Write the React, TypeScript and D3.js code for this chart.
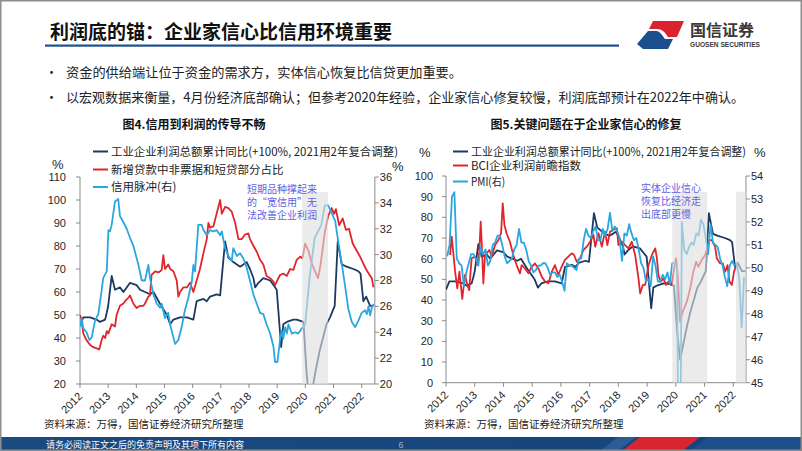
import React, { useEffect } from 'react';
import * as d3 from 'd3';

type P = [number, number];

// ---------- data ----------
const yearLabels = ['2012', '2013', '2014', '2015', '2016', '2017', '2018', '2019', '2020', '2021', '2022'];
const leftYTicks = [20, 30, 40, 50, 60, 70, 80, 90, 100, 110];
const leftY2Ticks = [20, 22, 24, 26, 28, 30, 32, 34, 36];
const rightYTicks = [0, 10, 20, 30, 40, 50, 60, 70, 80, 90, 100];
const rightY2Ticks = [45, 46, 47, 48, 49, 50, 51, 52, 53, 54];

// months since Jan 2012, value
const profitYoY: P[] = [
  [0, 45], [1.4, 49], [4.3, 49], [7.1, 48], [8.5, 47], [10.7, 48], [11.4, 51], [12, 54], [13.5, 67], [14.9, 61],
  [17, 62], [18.5, 60], [19.9, 62], [21.3, 64], [24.1, 63], [25.6, 61], [27.7, 60], [29.8, 59], [31.3, 60], [34, 55],
  [37, 50], [38.4, 46], [39.8, 48], [42.6, 49], [45.5, 49], [48.3, 48], [49.7, 56], [52.6, 57], [54, 56], [55.4, 58],
  [58.2, 59], [59.7, 58.5], [61.8, 82], [63.2, 75], [65.3, 73], [68.2, 71], [69.6, 72], [71, 73], [72.4, 70], [73.9, 66],
  [74.6, 62], [76, 64], [78.1, 66], [81, 65], [82.4, 63], [83.8, 61], [85.7, 36], [86.6, 46], [88.1, 47], [90.9, 48],
  [92.3, 48], [95.2, 47], [96.5, 25], [97.8, 11], [99, 18], [100.6, 27], [102, 34], [103.5, 40], [105, 46], [106.5, 49],
  [108.5, 54], [109.8, 82], [111.5, 72], [113.6, 71], [116.5, 70], [118.6, 69], [119.5, 68], [120.7, 56], [121.9, 58],
  [123.6, 54], [125, 54],
];

const loanShare: P[] = [
  [0, 50], [0.7, 48], [1.4, 42], [2.8, 39], [4.3, 37], [5.7, 36], [7.1, 35.5], [8.2, 35], [9.2, 39], [9.9, 41],
  [10.7, 40], [11.4, 43], [12.1, 42], [13.5, 46], [14.9, 45], [15.6, 50], [17, 54], [18.5, 55], [19.2, 56], [20.6, 57.5],
  [21.3, 58.5], [22.7, 55], [24.1, 53], [25.6, 54], [27, 54], [27.7, 55], [29.1, 58], [29.8, 58.5], [30.5, 67.4], [32, 69],
  [33.4, 68.5], [34.8, 69.6], [35.5, 76], [36.2, 70], [37.6, 72], [38.4, 70], [39.8, 69], [41.2, 65], [41.9, 58], [42.6, 60],
  [44, 62], [45.5, 62], [46.9, 64], [48.3, 60], [49.7, 65], [51.1, 70], [52.6, 77], [54, 83], [54.7, 90], [55.4, 88],
  [56.8, 88.5], [58.2, 94], [59.7, 100], [60.4, 94], [61.8, 97], [63.2, 96.5], [64.6, 95], [66.1, 90], [67.5, 83], [68.9, 83],
  [70.3, 85], [71.7, 85.5], [72.4, 83], [73.9, 80], [75.3, 77.5], [76.7, 74], [78.1, 72], [79.5, 67], [81, 66], [82.4, 64.5],
  [83.1, 63], [83.8, 64.5], [85.2, 67.4], [86.6, 68], [88.1, 67], [89.5, 70], [90.9, 69.6], [92.3, 74], [93.8, 75.4], [94.7, 74.6],
  [95.2, 77], [95.9, 81], [97.3, 78], [98.7, 72.5], [100.1, 69], [101.4, 66], [102.5, 72], [104.3, 86], [105.7, 93], [107.2, 96.5],
  [108.2, 94], [109, 96], [110.4, 89], [111.9, 92], [113.3, 87], [114.6, 87.5], [116.2, 81], [117.6, 78.5], [119, 76],
  [120.4, 73], [121.8, 70], [123.3, 67.5], [124.3, 66], [125, 62],
];

const creditImpulse: P[] = [
  [0, 24.4], [0.7, 25.1], [1.4, 24.3], [2.8, 24.0], [4, 23.4], [5, 23.6], [6.4, 24.9], [7.8, 25.4], [9.2, 27.2], [9.9, 28.2],
  [11.4, 28.7], [12.1, 31.9], [12.8, 31.8], [13.5, 32.3], [14.9, 34.1], [16.3, 34.3], [17, 33.0], [18.5, 32.5], [19.9, 32.0],
  [21.3, 31.3], [22.7, 30.7], [24.9, 29.2], [26.3, 28.0], [27.7, 28.0], [29.1, 29.2], [29.8, 28.2], [31.3, 26.9], [32.7, 26.2],
  [34.1, 25.9], [34.8, 26.2], [36.2, 25.1], [37.6, 25.5], [38.4, 24.6], [39.8, 23.6], [40.5, 23.1], [41.9, 23.4], [43.3, 24.4],
  [44.7, 25.7], [46.2, 26.7], [47.6, 27.9], [48.3, 29.2], [49, 28.7], [50.4, 32.3], [51.8, 32.3], [52.6, 31.9], [54, 31.5],
  [55.4, 31.9], [56.8, 31.8], [58.2, 31.9], [59.7, 31.5], [60.4, 31.8], [61.8, 30.5], [63.2, 29.9], [64.6, 29.5], [65.3, 30.5],
  [66.8, 29.9], [68.2, 30.1], [69.6, 29.7], [71, 29.0], [72.4, 28.0], [73.9, 26.9], [75.3, 26.2], [76.7, 25.5], [78.1, 25.4],
  [79.5, 24.6], [81, 23.9], [82.4, 22.9], [83.1, 21.7], [84.1, 21.7], [85.2, 23.4], [85.9, 24.1], [86.6, 23.5], [87.4, 24.4],
  [88.1, 23.9], [88.8, 24.6], [90.2, 23.9], [91.6, 24.0], [93, 23.9], [94.5, 24.3], [95.9, 24.6], [97.9, 28.4], [100, 31.3],
  [102.8, 32.3], [104.3, 33.8], [105.7, 33.8], [107.2, 33.2], [108.7, 32.6], [110.1, 30.9], [111.5, 29.3], [112.9, 27.6],
  [114.3, 25.8], [115.8, 24.8], [117.2, 24.4], [118.6, 24.9], [120, 25.5], [121.4, 25.7], [122.2, 25.4], [122.9, 26.0],
  [123.6, 25.3], [124.3, 25.9], [125, 26.2],
];

const bciProfit: P[] = [
  [1.7, 61.8], [2.4, 70.6], [3.8, 53.7], [4.7, 45.6], [5.6, 53.7], [6.8, 40.5], [7.9, 52.1], [8.9, 47.3], [9.7, 44.8],
  [10.7, 60.2], [12.1, 61], [13.1, 56.9], [13.9, 63.4], [14.5, 77.9], [14.9, 68.2], [15.6, 48], [16.3, 61.8], [17, 62.6],
  [18.1, 64.2], [19.1, 61], [20.5, 66.6], [21.9, 69], [23, 72.3], [23.7, 86.8], [24.4, 76.3], [25.3, 72.3], [26.7, 68.2],
  [28.1, 61.8], [29.5, 56.9], [30.9, 52.9], [31.6, 56.9], [33, 55.3], [34.4, 52.9], [35.8, 56.1], [37.2, 57.7], [38.6, 55.3],
  [40, 51.3], [41.4, 48.9], [42.8, 48.1], [44.2, 53.7], [45.5, 56.9], [46.9, 52.1], [48.3, 56.1], [49.7, 59.4], [51.1, 61],
  [52.5, 62.6], [53.5, 61.8], [54.6, 58.5], [56, 60.2], [57.4, 64.2], [58.8, 65.8], [60.2, 68.2], [61.6, 71.5], [62.3, 65.8],
  [63.7, 72.3], [65.1, 65.8], [66.4, 73.1], [67.4, 66.6], [68.5, 73.1], [69.9, 73.9], [71.4, 74.7], [72, 66.6], [73.5, 68.2],
  [74.8, 66.6], [76.2, 65], [77.6, 68.2], [79, 61.8], [80.4, 50.5], [81.1, 43.2], [82.2, 47.3], [83.2, 47.3], [84.6, 56.9],
  [86, 61.8], [87.4, 65], [88.1, 60.2], [88.7, 52.1], [89.7, 48.9], [90.8, 50.5], [91.9, 47.3], [92.9, 48.9], [94.3, 47.3],
  [95.3, 55.3], [96.1, 60.2], [96.8, 52.1], [97.8, 29.5], [98.9, 34.4], [100.6, 39.2], [102, 45.6], [103.3, 53.7], [104.5, 58.5],
  [105.4, 56.1], [106.8, 59.4], [108.2, 61.8], [109.2, 65], [110, 69], [111, 69], [112.4, 65.8], [113.1, 60.2], [114.5, 57.7],
  [115.6, 57.7], [116.6, 53.7], [117.6, 56.9], [118.4, 48.9], [119.4, 47.3], [120.3, 53.7], [121.4, 56.9],
];

// official manufacturing PMI, Jan 2012 – May 2022
const pmiValues: number[] = [
  50.5, 51.0, 53.1, 53.3, 50.4, 50.2, 50.1, 49.2, 49.8, 50.2, 50.6, 50.6,
  50.4, 50.1, 50.9, 50.6, 50.8, 50.1, 50.3, 51.0, 51.1, 51.4, 51.4, 51.0,
  50.5, 50.2, 50.3, 50.4, 50.8, 51.0, 51.7, 51.1, 51.1, 50.8, 50.3, 50.1,
  49.8, 49.9, 50.1, 50.1, 50.2, 50.2, 50.0, 49.7, 49.8, 49.8, 49.6, 49.7,
  49.4, 49.0, 50.2, 50.1, 50.1, 50.0, 49.9, 50.4, 50.4, 51.2, 51.7, 51.4,
  51.3, 51.6, 51.8, 51.2, 51.2, 51.7, 51.4, 51.7, 52.4, 51.6, 51.8, 51.6,
  51.3, 50.3, 51.5, 51.4, 51.9, 51.5, 51.2, 51.3, 50.8, 50.2, 50.0, 49.4,
  49.5, 49.2, 50.5, 50.1, 49.4, 49.4, 49.7, 49.5, 49.8, 49.3, 50.2, 50.2,
  50.0, 35.7, 52.0, 50.8, 50.6, 50.9, 51.1, 51.0, 51.5, 51.4, 52.1, 51.9,
  51.3, 50.6, 51.9, 51.1, 51.0, 50.9, 50.4, 50.1, 49.6, 49.2, 50.1, 50.3,
  50.1, 50.2, 49.5, 47.4, 49.6,
];

const leftShade: P[] = [[94.6, 105.7]];
const rightShade: P[] = [[94.5, 109.1], [121.1, 125.3]];

// ---------- style ----------
const CJK = '"Noto Sans CJK SC", "Noto Sans", sans-serif';
const NUM = '"Liberation Sans", Arial, sans-serif';
const NAVY = '#1c3a60';
const RED = '#e1252c';
const LBLUE = '#2aa7df';
const AXIS = '#8a8a8a';
const NOTE = '#6262e0';

type AxesProps = {
  x: d3.ScaleLinear<number, number>;
  yl: d3.ScaleLinear<number, number>;
  yr: d3.ScaleLinear<number, number>;
  lt: number[];
  rt: number[];
  x0: number;
  x1: number;
  labelGapL: number;
};

function Axes({ x, yl, yr, lt, rt, x0, x1, labelGapL }: AxesProps) {
  const [yBot, yTop] = yl.range();
  return (
    <g fontFamily={NUM} fontSize={11} fill="#262626">
      <line x1={x0} x2={x0} y1={yTop} y2={yBot} stroke={AXIS} />
      {lt.map((v) => (
        <g key={'l' + v}>
          <line x1={x0 - 4} x2={x0} y1={yl(v)} y2={yl(v)} stroke={AXIS} />
          <text x={x0 - labelGapL} y={yl(v)} dy="0.36em" textAnchor="end">{v}</text>
        </g>
      ))}
      <line x1={x1} x2={x1} y1={yTop} y2={yBot} stroke={AXIS} />
      {rt.map((v) => (
        <g key={'r' + v}>
          <line x1={x1} x2={x1 + 4} y1={yr(v)} y2={yr(v)} stroke={AXIS} />
          <text x={x1 + 5} y={yr(v)} dy="0.36em" textAnchor="start">{v}</text>
        </g>
      ))}
      <line x1={x0} x2={x1} y1={yBot} y2={yBot} stroke={AXIS} />
      {yearLabels.map((lab, i) => {
        const px = x(i * 12);
        return (
          <g key={lab}>
            <line x1={px} x2={px} y1={yBot} y2={yBot + 4} stroke={AXIS} />
            <text transform={`translate(${px + 3},${yBot + 13}) rotate(-45)`} textAnchor="end">{lab}</text>
          </g>
        );
      })}
    </g>
  );
}

function pathOf(data: P[], x: d3.ScaleLinear<number, number>, y: d3.ScaleLinear<number, number>) {
  return d3.line<P>().x((d) => x(d[0])).y((d) => y(d[1]))(data) || '';
}

export default function App() {
  useEffect(() => {
    document.body.style.margin = '0';
  }, []);

  // left chart scales
  const xL = d3.scaleLinear().domain([0, 120]).range([80, 361.7]);
  const xLEnd = xL(125.6);
  const yL1 = d3.scaleLinear().domain([20, 110]).range([384, 177]);
  const yL2 = d3.scaleLinear().domain([20, 36]).range([384, 177]);

  // right chart scales
  const xR = d3.scaleLinear().domain([0, 120]).range([446, 733.3]);
  const xREnd = xR(125.3);
  const yR1 = d3.scaleLinear().domain([0, 100]).range([382.7, 176]);
  const yR2 = d3.scaleLinear().domain([45, 54]).range([382.7, 176]);

  const pmiPts: P[] = pmiValues.map((v, i) => [i + 0.5, v]);

  const legendRow1 = '工业企业利润总额累计同比(+100%, 2021用2年复合调整)';

  return (
    <svg
      width={802}
      height={451}
      viewBox="0 0 802 451"
      style={{ display: 'block', position: 'absolute', left: 0, top: 0, background: '#fff' }}
    >
      <defs>
        <clipPath id="clipL">
          <rect x={80} y={177} width={xLEnd - 80} height={207} />
        </clipPath>
        <clipPath id="clipR">
          <rect x={446} y={176} width={xREnd - 446} height={206.7} />
        </clipPath>
        <linearGradient id="band" x1="0" x2="1" y1="0" y2="0">
          <stop offset="0" stopColor="#1a4a80" />
          <stop offset="1" stopColor="#17447a" />
        </linearGradient>
      </defs>
      <rect x={0} y={0} width={802} height={451} fill="#fff" />

      {/* header */}
      <text x={50} y={39} fontFamily={CJK} fontWeight={700} fontSize={19} fill="#111">
        利润底的锚：企业家信心比信用环境重要
      </text>
      <rect x={45} y={44.5} width={574} height={2.2} fill="#1f4f8c" />
      {/* logo */}
      <path d="M653,21 L684,21 L677,37 L668,37 C665,32 662,29 657,29 L649,29 Z" fill="#d9232e" />
      <path d="M637,44 L648,31 L656,31 C660,31 662,35 665,39 L673,39 L668,49 L643,49 Z" fill="#1d4e8e" />
      <text x={690} y={36} fontFamily={CJK} fontWeight={700} fontSize={16} fill="#3a3a3a">国信证券</text>
      <text x={690} y={47} fontFamily={NUM} fontWeight={700} fontSize={6.6} fill="#3a3a3a" textLength={70} lengthAdjust="spacingAndGlyphs">
        GUOSEN SECURITIES
      </text>

      {/* bullets */}
      <g fontFamily={CJK} fontSize={13} fill="#222">
        <text x={45} y={77}>•</text>
        <text x={66} y={77} textLength={396} lengthAdjust="spacingAndGlyphs">资金的供给端让位于资金的需求方，实体信心恢复比信贷更加重要。</text>
        <text x={45} y={102}>•</text>
        <text x={66} y={102} textLength={678} lengthAdjust="spacingAndGlyphs">以宏观数据来衡量，4月份经济底部确认；但参考2020年经验，企业家信心修复较慢，利润底部预计在2022年中确认。</text>
      </g>

      {/* ---------- left chart ---------- */}
      <text x={194} y={129} textAnchor="middle" fontFamily={CJK} fontWeight={700} fontSize={12} fill="#111">
        图4.信用到利润的传导不畅
      </text>
      <g fontFamily={CJK} fontSize={11.5} fill="#222">
        <line x1={93} x2={108} y1={151.5} y2={151.5} stroke={NAVY} strokeWidth={2} />
        <text x={111} y={151.5} dy="0.36em" textLength={287} lengthAdjust="spacingAndGlyphs">{legendRow1}</text>
        <line x1={93} x2={108} y1={169.5} y2={169.5} stroke={RED} strokeWidth={2} />
        <text x={111} y={169.5} dy="0.36em">新增贷款中非票据和短贷部分占比</text>
        <line x1={93} x2={108} y1={187} y2={187} stroke={LBLUE} strokeWidth={2} />
        <text x={111} y={187} dy="0.36em">信用脉冲(右)</text>
      </g>
      <text x={52} y={169} fontFamily={NUM} fontSize={13} fill="#222">%</text>
      <text x={392} y={171} fontFamily={NUM} fontSize={13} fill="#222">%</text>

      <Axes x={xL} yl={yL1} yr={yL2} lt={leftYTicks} rt={leftY2Ticks} x0={80} x1={xLEnd} labelGapL={14} />
      <g clipPath="url(#clipL)" fill="none" strokeWidth={1.8} strokeLinejoin="round">
        <path d={pathOf(profitYoY, xL, yL1)} stroke={NAVY} />
        <path d={pathOf(loanShare, xL, yL1)} stroke={RED} />
        <path d={pathOf(creditImpulse, xL, yL2)} stroke={LBLUE} />
      </g>
      {leftShade.map(([a, b]) => (
        <rect key={a} x={xL(a)} y={yL1(103.5)} width={xL(b) - xL(a)} height={yL1(20) - yL1(103.5)} fill="#dedede" opacity={0.62} />
      ))}
      <g fontFamily={CJK} fontSize={10} fill={NOTE}>
        <text x={247} y={192.5}>短期品种撑起来</text>
        <text x={247} y={205.5}>的“宽信用”无</text>
        <text x={247} y={218.5}>法改善企业利润</text>
      </g>

      {/* ---------- right chart ---------- */}
      <text x={586} y={129} textAnchor="middle" fontFamily={CJK} fontWeight={700} fontSize={12} fill="#111">
        图5.关键问题在于企业家信心的修复
      </text>
      <g fontFamily={CJK} fontSize={11.5} fill="#222">
        <line x1={453} x2={468} y1={151.5} y2={151.5} stroke={NAVY} strokeWidth={2} />
        <text x={471} y={151.5} dy="0.36em" textLength={275} lengthAdjust="spacingAndGlyphs">{legendRow1}</text>
        <line x1={453} x2={468} y1={165.5} y2={165.5} stroke={RED} strokeWidth={2} />
        <text x={471} y={165.5} dy="0.36em" textLength={110} lengthAdjust="spacingAndGlyphs">BCI企业利润前瞻指数</text>
        <line x1={453} x2={468} y1={181.5} y2={181.5} stroke={LBLUE} strokeWidth={2} />
        <text x={471} y={181.5} dy="0.36em" textLength={34} lengthAdjust="spacingAndGlyphs">PMI(右)</text>
      </g>
      <text x={419} y={157} fontFamily={NUM} fontSize={13} fill="#222">%</text>
      <text x={754} y={157} fontFamily={NUM} fontSize={13} fill="#222">%</text>

      <Axes x={xR} yl={yR1} yr={yR2} lt={rightYTicks} rt={rightY2Ticks} x0={446} x1={xREnd} labelGapL={13} />
      <g clipPath="url(#clipR)" fill="none" strokeWidth={1.8} strokeLinejoin="round">
        <path d={pathOf(profitYoY, xR, yR1)} stroke={NAVY} />
        <path d={pathOf(bciProfit, xR, yR1)} stroke={RED} />
        <path d={pathOf(pmiPts, xR, yR2)} stroke={LBLUE} />
      </g>
      {rightShade.map(([a, b]) => (
        <rect key={a} x={xR(a)} y={yR1(92.4)} width={xR(b) - xR(a)} height={yR1(0) - yR1(92.4)} fill="#dedede" opacity={0.62} />
      ))}
      <g fontFamily={CJK} fontSize={10} fill={NOTE}>
        <text x={641} y={191.5}>实体企业信心</text>
        <text x={641} y={204.5}>恢复比经济走</text>
        <text x={641} y={217.5}>出底部更慢</text>
      </g>

      {/* sources */}
      <g fontFamily={CJK} fontSize={10.5} fill="#222">
        <text x={44} y={428}>资料来源：万得，国信证券经济研究所整理</text>
        <text x={424} y={428}>资料来源：万得，国信证券经济研究所整理</text>
      </g>

      {/* footer band */}
      <rect x={0} y={437} width={802} height={14} fill="url(#band)" />
      <path d="M622,451 L640,437 L700,437 L682,451 Z" fill="#d92530" />
      <path d="M690,451 L708,437 L802,437 L802,451 Z" fill="#1d4f8c" />
      <path d="M600,451 L618,437 L636,437 L618,451 Z" fill="#2a5d96" />
      <text x={46} y={447.5} fontFamily={CJK} fontSize={9} fill="#fff">请务必阅读正文之后的免责声明及其项下所有内容</text>
      <text x={401} y={448} fontFamily={NUM} fontSize={9} fill="#9fb3cc" textAnchor="middle">6</text>

      {/* slide border */}
      <rect x={0.75} y={0.75} width={800.5} height={449.5} fill="none" stroke="#8d8d8d" strokeWidth={1.5} />
    </svg>
  );
}
